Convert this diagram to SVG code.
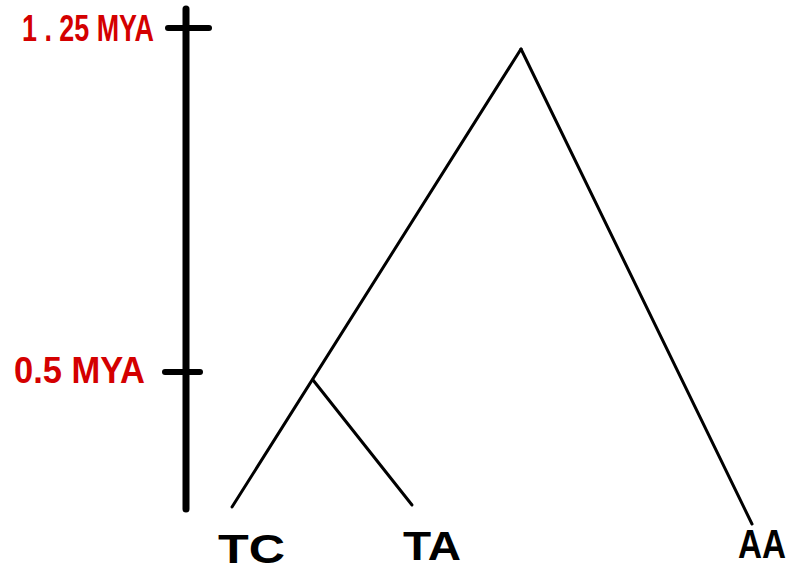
<svg xmlns="http://www.w3.org/2000/svg" width="796" height="571" viewBox="0 0 796 571">
<style>
.axis{stroke:#000;stroke-width:7;stroke-linecap:round;fill:none}
.tick{stroke:#000;stroke-width:6;stroke-linecap:round;fill:none}
.br{stroke:#000;stroke-width:3;stroke-linecap:round;fill:none}
.time{font-family:"Liberation Sans",Arial,sans-serif;font-weight:bold;fill:#d40000;font-size:36px}
.taxon{font-family:"Liberation Sans",Arial,sans-serif;font-weight:bold;fill:#000;font-size:40px}
</style>
<rect width="796" height="571" fill="#fff"/>
<g id="axis">
<line class="axis" x1="186" y1="9" x2="186" y2="509"/>
<line class="tick" x1="168" y1="28" x2="209" y2="28"/>
<line class="tick" x1="165" y1="372" x2="200" y2="372"/>
<text class="time" x="22" y="41" textLength="132" lengthAdjust="spacingAndGlyphs">1 . 25 MYA</text>
<text class="time" x="14" y="383" textLength="131" lengthAdjust="spacingAndGlyphs">0.5 MYA</text>
</g>
<g id="connectors">
<line class="br" x1="521" y1="49" x2="232" y2="507"/>
<line class="br" x1="521" y1="49" x2="752" y2="524"/>
<line class="br" x1="313" y1="380" x2="412" y2="505"/>
</g>
<g id="TC"><text class="taxon" x="218" y="563" textLength="67" lengthAdjust="spacingAndGlyphs">TC</text></g>
<g id="TA"><text class="taxon" x="403" y="560" textLength="58" lengthAdjust="spacingAndGlyphs">TA</text></g>
<g id="AA"><text class="taxon" x="738" y="558" font-size="32" textLength="48" lengthAdjust="spacingAndGlyphs">AA</text></g>
</svg>
